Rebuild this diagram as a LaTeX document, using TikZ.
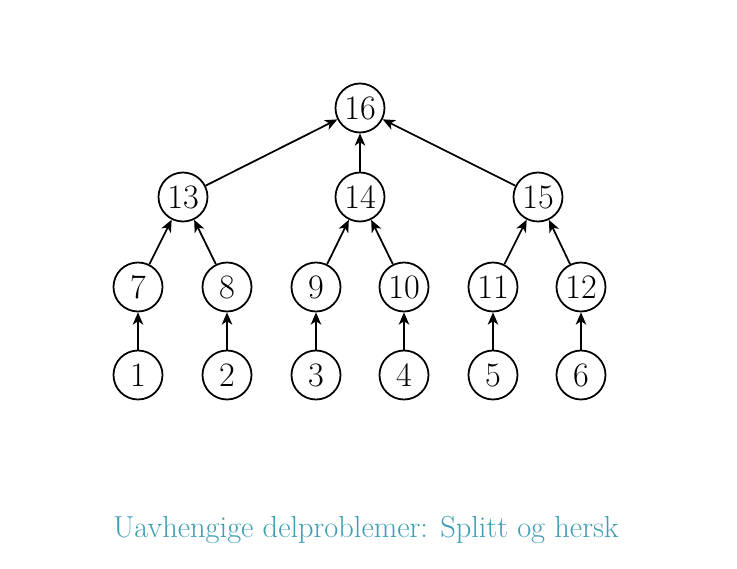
\documentclass[tikz,border=0pt]{standalone}
\usetikzlibrary{arrows.meta}
\definecolor{captioncol}{RGB}{62,158,178}

\begin{document}
\begin{tikzpicture}[
    sub/.style={circle, draw, line width=1pt, minimum size=0.98cm, inner sep=0pt, font=\fontsize{19.5}{21}\selectfont},
    dep/.style={-{Stealth[length=7pt,width=6pt,inset=2pt]}, line width=1pt}
]
    \useasboundingbox (0,0) rectangle (14.74,11.36);

    % Nivå 0
    \node[sub] (n1) at (2.76,3.86) {1};
    \node[sub] (n2) at (4.54,3.86) {2};
    \node[sub] (n3) at (6.32,3.86) {3};
    \node[sub] (n4) at (8.08,3.86) {4};
    \node[sub] (n5) at (9.86,3.86) {5};
    \node[sub] (n6) at (11.62,3.86) {6};

    % Nivå 1
    \node[sub] (n7) at (2.76,5.62) {7};
    \node[sub] (n8) at (4.54,5.62) {8};
    \node[sub] (n9) at (6.32,5.62) {9};
    \node[sub] (n10) at (8.08,5.62) {10};
    \node[sub] (n11) at (9.86,5.62) {11};
    \node[sub] (n12) at (11.62,5.62) {12};

    % Nivå 2
    \node[sub] (n13) at (3.66,7.42) {13};
    \node[sub] (n14) at (7.2,7.42) {14};
    \node[sub] (n15) at (10.76,7.42) {15};

    % Rot
    \node[sub] (n16) at (7.2,9.2) {16};

    % Piler
    \draw[dep] (n1) -- (n7);
    \draw[dep] (n2) -- (n8);
    \draw[dep] (n3) -- (n9);
    \draw[dep] (n4) -- (n10);
    \draw[dep] (n5) -- (n11);
    \draw[dep] (n6) -- (n12);
    \draw[dep] (n7) -- (n13);
    \draw[dep] (n8) -- (n13);
    \draw[dep] (n9) -- (n14);
    \draw[dep] (n10) -- (n14);
    \draw[dep] (n11) -- (n15);
    \draw[dep] (n12) -- (n15);
    \draw[dep] (n13) -- (n16);
    \draw[dep] (n14) -- (n16);
    \draw[dep] (n15) -- (n16);

    % Tekst
    \node[text=captioncol, font=\fontsize{17.3}{20}\selectfont] (cap) at (7.32,0.76) {Uavhengige delproblemer: Splitt og hersk};

\end{tikzpicture}
\end{document}
